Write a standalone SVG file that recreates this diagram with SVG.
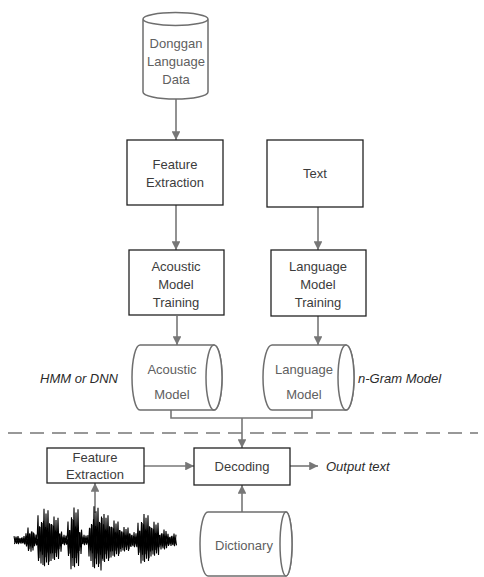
<svg xmlns="http://www.w3.org/2000/svg" width="484" height="577" viewBox="0 0 484 577">
<style>
.box{fill:#fff;stroke:#222;stroke-width:1.3}
.cyl{fill:#fff;stroke:#6e6e6e;stroke-width:1.5}
.t{font-family:"Liberation Sans",Arial,sans-serif;font-size:13px;fill:#3c3c3c;text-anchor:middle}
.ct{font-family:"Liberation Sans",Arial,sans-serif;font-size:13px;fill:#606060;text-anchor:middle}
.it{font-family:"Liberation Sans",Arial,sans-serif;font-size:13px;font-style:italic;fill:#2a2a2a}
.c{fill:none;stroke:#777;stroke-width:1.6}
.w{fill:none;stroke:#000;stroke-width:1.1}
</style>
<defs>
<marker id="ah" viewBox="0 0 10 10" refX="10" refY="5" markerWidth="5.5" markerHeight="5.5" orient="auto" markerUnits="strokeWidth">
<path d="M0,0 L10,5 L0,10 Z" fill="#777"/>
</marker>
<path id="wave" d="M14,535 L15,539.6 L16,535.4 L17,539.2 L18,535.1 L19,540.1 L20,536.5 L21,540.7 L22,536 L23,540.4 L24,535 L25,541.3 L26,532.9 L27,540.4 L28,528.5 L29,545 L30,533 L31,547 L32,531.5 L33,546 L34,533 L35,540.8 L36,533.8 L37,540 L38,519 L39,552 L40,528 L41,556 L42,525 L43,557.2 L44,514 L45,551.2 L46,517.6 L47,547.6 L48,515.2 L49,554.8 L50,526 L51,554.2 L52,526.3 L53,552.4 L54,520 L55,547.9 L56,522.7 L57,545.2 L58,520.9 L59,545 L60,533 L61,547 L62,535.4 L63,541.2 L64,534 L65,540.2 L66,534.6 L67,539.6 L68,523.8 L69,548.5 L70,530.5 L71,560.5 L72,521.8 L73,558 L74,513 L75,551.8 L76,516.8 L77,548 L78,514.3 L79,546.4 L80,532 L81,548.8 L82,535.4 L83,541.2 L84,534 L85,540.2 L86,534.6 L87,539.6 L88,534.2 L89,550.6 L90,529 L91,554.2 L92,526.3 L93,558.8 L94,512 L95,552.3 L96,515.9 L97,548.4 L98,513.3 L99,556.2 L100,525 L101,561.4 L102,521.1 L103,554 L104,518 L105,549 L106,521 L107,546 L108,519 L109,552 L110,528 L111,551.5 L112,528.3 L113,550 L114,523 L115,546.3 L116,525.3 L117,544 L118,523.8 L119,548.5 L120,530.5 L121,547 L122,531.5 L123,546 L124,528 L125,543.5 L126,529.5 L127,542 L128,528.5 L129,545 L130,533 L131,543.4 L132,534.1 L133,542.8 L134,532 L135,541.3 L136,532.9 L137,543.6 L138,524.7 L139,547.8 L140,531 L141,556 L142,525 L143,554 L144,518 L145,549 L146,521 L147,546 L148,519 L149,552 L150,528 L151,550.6 L152,528.9 L153,549.2 L154,524 L155,545.7 L156,526.1 L157,543.6 L158,524.7 L159,543.6 L160,534 L161,545.2 L162,532.8 L163,544.4 L164,530 L165,542.4 L166,531.2 L167,540 L168,533.2 L169,541.5 L170,535.5 L171,542.5 L172,534.8 L173,542 L174,533 L175,540.8 L176,533.8"/>
</defs>
<rect width="484" height="577" fill="#fff"/>

<g id="connectors">
<path class="c" d="M176,99 V140" marker-end="url(#ah)"/>
<path class="c" d="M176,205 V250" marker-end="url(#ah)"/>
<path class="c" d="M318,207 V250" marker-end="url(#ah)"/>
<path class="c" d="M177,316 V345" marker-end="url(#ah)"/>
<path class="c" d="M318,316 V345" marker-end="url(#ah)"/>
<path class="c" d="M171,410 V418 H312 V410"/>
<path class="c" d="M242,418 V448" marker-end="url(#ah)"/>
<path class="c" d="M144,466 H194" marker-end="url(#ah)"/>
<path class="c" d="M95,513 V483" marker-end="url(#ah)"/>
<path class="c" d="M242,512 V485" marker-end="url(#ah)"/>
<path class="c" d="M290,466 H318" marker-end="url(#ah)"/>
</g>

<line id="separator" x1="8" y1="433" x2="478" y2="433" stroke="#777" stroke-width="1.6" stroke-dasharray="14,8"/>

<g id="donggan-data">
<path class="cyl" d="M143,19 V92 A32.5,7 0 0 0 208,92 V19 A32.5,6.5 0 0 0 143,19 A32.5,6.5 0 0 0 208,19"/>
<text class="ct" x="176" y="48">Donggan</text>
<text class="ct" x="176" y="66">Language</text>
<text class="ct" x="176" y="84">Data</text>
</g>

<g id="feature-extraction-top">
<rect class="box" x="127" y="140" width="96" height="65"/>
<text class="t" x="175" y="169">Feature</text>
<text class="t" x="175" y="187">Extraction</text>
</g>

<g id="text-node">
<rect class="box" x="267" y="140" width="96" height="67"/>
<text class="t" x="315" y="178">Text</text>
</g>

<g id="acoustic-training">
<rect class="box" x="129" y="250" width="95" height="65"/>
<text class="t" x="176" y="271">Acoustic</text>
<text class="t" x="176" y="289">Model</text>
<text class="t" x="176" y="307">Training</text>
</g>

<g id="language-training">
<rect class="box" x="271" y="250" width="95" height="66"/>
<text class="t" x="318" y="271">Language</text>
<text class="t" x="318" y="289">Model</text>
<text class="t" x="318" y="307">Training</text>
</g>

<g id="acoustic-model">
<path class="cyl" d="M140,345 H214 A8,32.5 0 0 1 214,410 H140 A8,32.5 0 0 1 140,345 Z"/>
<ellipse class="cyl" cx="214" cy="377.5" rx="8" ry="32.5"/>
<text class="ct" x="172" y="374">Acoustic</text>
<text class="ct" x="172" y="399">Model</text>
</g>
<text id="hmm-label" class="it" x="40" y="383">HMM or DNN</text>

<g id="language-model">
<path class="cyl" d="M272,345 H346 A8,32.5 0 0 1 346,410 H272 A9,32.5 0 0 1 272,345 Z"/>
<ellipse class="cyl" cx="346" cy="377.5" rx="8" ry="32.5"/>
<text class="ct" x="304" y="374">Language</text>
<text class="ct" x="304" y="399">Model</text>
</g>
<text id="ngram-label" class="it" x="358" y="383">n-Gram Model</text>

<g id="feature-extraction-bottom">
<rect class="box" x="47" y="448" width="97" height="35"/>
<text class="t" x="95" y="462">Feature</text>
<text class="t" x="95" y="479">Extraction</text>
</g>

<g id="decoding">
<rect class="box" x="194" y="448" width="96" height="37"/>
<text class="t" x="242" y="471">Decoding</text>
</g>

<text id="output-text" class="it" x="326" y="471">Output text</text>

<g id="dictionary">
<path class="cyl" d="M208,512 H286 A6,32 0 0 1 286,576 H208 A8,32 0 0 1 208,512 Z"/>
<ellipse class="cyl" cx="286" cy="544" rx="6" ry="32"/>
<text class="ct" x="244" y="550">Dictionary</text>
</g>

<g id="waveform">
<use href="#wave" class="w" vector-effect="non-scaling-stroke" transform="translate(0,540) scale(1,1.3) translate(0,-538)"/>
<use href="#wave" class="w" transform="translate(0.5,541) scale(1,-1.05) translate(0,-538)"/>
</g>
</svg>
